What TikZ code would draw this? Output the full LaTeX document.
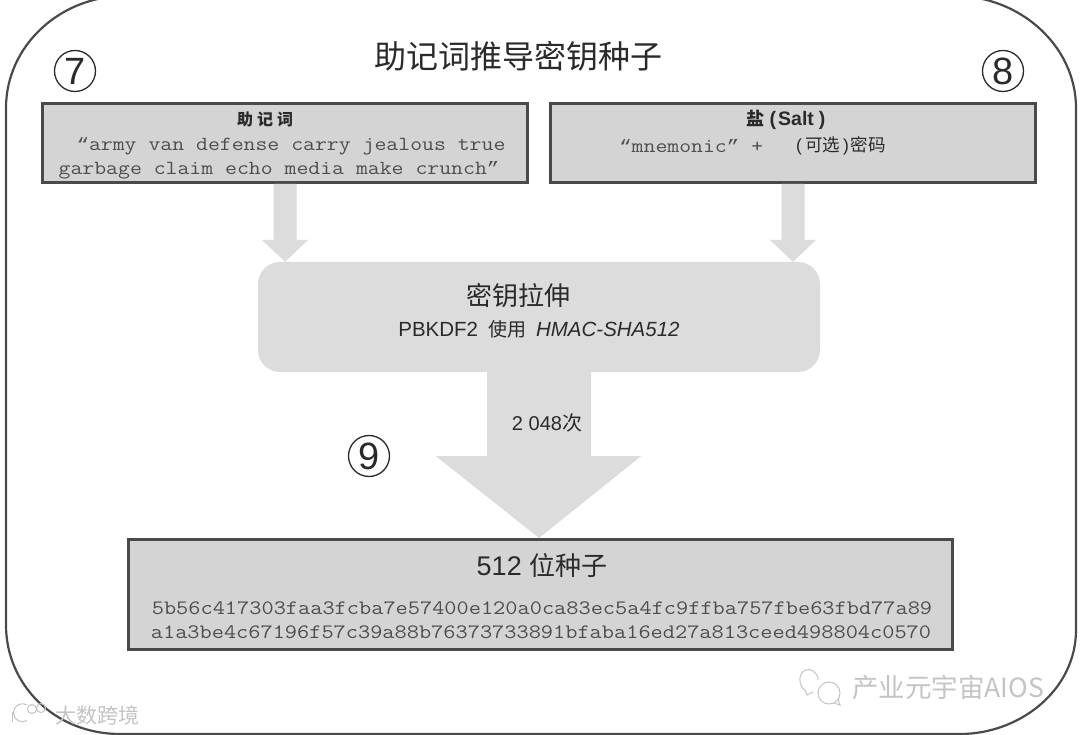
\documentclass[tikz,border=0pt]{standalone}
\usepackage{fontspec}
\setmainfont{Liberation Sans}
\newfontfamily\cjk{Noto Sans CJK SC}
\newfontfamily\quotefont{Liberation Mono}
\usetikzlibrary{calc}
\definecolor{boxgray}{HTML}{D4D4D4}
\definecolor{lightgray2}{HTML}{DCDCDC}
\definecolor{edgegray}{HTML}{4A4A4A}
\definecolor{monogray}{HTML}{4E4E4E}
\definecolor{inkdark}{HTML}{2A2A2A}
\definecolor{markgray}{HTML}{C4C4C4}
\newcommand{\fs}[1]{\fontsize{#1}{#1}\selectfont}
\tikzset{
  x=1pt,y=-1pt,
  box/.style={draw=edgegray,line width=3pt,fill=boxgray,inner sep=0pt},
  blockarrow/.style={fill=lightgray2,draw=none},
  txt/.style={inner sep=0pt,text=inkdark},
  monotxt/.style={inner sep=0pt,text=monogray,font=\ttfamily,xscale=1.155,transform shape},
  num/.style={circle,draw=inkdark,line width=1.3pt,minimum size=41pt,inner sep=0pt,text=inkdark,font=\fs{38}},
  wmark/.style={inner sep=0pt,text=markgray},
  markline/.style={draw=markgray,line width=1pt}
}
\begin{document}
\begin{tikzpicture}
\useasboundingbox (0,0) rectangle (1080,735);
\fill[white] (0,0) rectangle (1080,735);
% outer frame
\draw[edgegray,line width=2.2pt]
  (6,108) .. controls (6,46) and (60,-4) .. (125,-4) -- (955,-4)
  .. controls (1020,-4) and (1076,46) .. (1076,108) -- (1076,630)
  .. controls (1076,690) and (1020,734) .. (960,734) -- (120,734)
  .. controls (55,734) and (6,685) .. (6,625) -- cycle;
% boxes
\node[box,minimum width=485pt,minimum height=79pt] (mn) at (285,143) {};
\node[box,minimum width=485pt,minimum height=79pt] (salt) at (793,143) {};
\node[fill=lightgray2,rounded corners=22pt,minimum width=562pt,minimum height=110pt,inner sep=0pt] (kdf) at (539,317) {};
\node[box,minimum width=824pt,minimum height=110pt] (seed) at (540.5,594.5) {};
% block arrows
\fill[blockarrow] ($(mn.south)+(-11.5,0)$) -- ($(mn.south)+(-11.5,56)$) -- ($(mn.south)+(-23,56)$)
  -- (mn.south |- kdf.north) -- ($(mn.south)+(23,56)$) -- ($(mn.south)+(11.5,56)$) -- ($(mn.south)+(11.5,0)$) -- cycle;
\fill[blockarrow] ($(salt.south)+(-11.5,0)$) -- ($(salt.south)+(-11.5,56)$) -- ($(salt.south)+(-23,56)$)
  -- (salt.south |- kdf.north) -- ($(salt.south)+(23,56)$) -- ($(salt.south)+(11.5,56)$) -- ($(salt.south)+(11.5,0)$) -- cycle;
\fill[blockarrow] ($(kdf.south)+(-52,0)$) -- ($(kdf.south)+(-52,84)$) -- ($(kdf.south)+(-103,84)$)
  -- (kdf.south |- seed.north) -- ($(kdf.south)+(102,84)$) -- ($(kdf.south)+(52,84)$) -- ($(kdf.south)+(52,0)$) -- cycle;
% title
\node[txt] (title) at (518,56) {\cjk\fs{32}助记词推导密钥种子};
% numbers
\node[num] (n7) at (75,71) {7};
\node[num] (n8) at (1003,71) {8};
\node[num] (n9) at (369,456) {9};
% mnemonic box
\node[txt] (mnh) at (265,119) {\cjk\bfseries\fs{16}助\hspace{4pt}记\hspace{4pt}词};
\node[monotxt] (mn1) at (291,146) {\fs{20}{\quotefont\fs{18}“}army van defense carry jealous true};
\node[monotxt] (mn2) at (279,170) {\fs{20}garbage claim echo media make crunch{\quotefont\fs{18}”}};
% salt box
\node[txt] (salth) at (784,120) {\bfseries\fs{19.5}{\cjk\fs{18} 盐}\hspace{5pt}(\hspace{2pt}Salt\hspace{5pt})};
\node[monotxt,anchor=west] (salt1) at (619,146) {\fs{20}{\quotefont\fs{18}“}mnemonic{\quotefont\fs{18}”} +};
\node[txt,anchor=west] (salt2) at (796,146) {\fs{17.5}(\hspace{3pt}{\cjk 可选}\hspace{3pt})\hspace{2pt}{\cjk 密码}};
% kdf
\node[txt] (kdf1) at (518,296) {\cjk\fs{26}密钥拉伸};
\node[txt] (kdf2) at (539,329) {\fs{20.5}PBKDF2 {\cjk\fs{19} 使用}\hspace{10pt}\textit{HMAC-SHA512}};
\node[txt] (iter) at (547,423) {\fs{20}2 048{\cjk 次}};
% seed
\node[txt] (seedh) at (542,566) {\fs{27}512 {\cjk\fs{26}位种子}};
\node[monotxt] (h1) at (542,608) {\fs{20.5}5b56c417303faa3fcba7e57400e120a0ca83ec5a4fc9ffba757fbe63fbd77a89};
\node[monotxt] (h2) at (541,632) {\fs{20.5}a1a3be4c67196f57c39a88b76373733891bfaba16ed27a813ceed498804c0570};
% watermarks
\node[wmark,anchor=west] (wm1) at (55,715) {\cjk\fs{21}大数跨境};
\node[wmark,anchor=west] (wm2) at (852,687) {\cjk\fs{26.5}产业元宇宙AIOS};
\draw[markline] (12,712) -- (12,722);
\draw[markline] (27,705) arc[start angle=-60,end angle=-300,radius=9];
\draw[markline] (32,709) circle[radius=4.5] (41,708) circle[radius=4.5];
\draw[markline] (818,680) .. controls (818,672) and (810,668) .. (806,670)
  .. controls (798,672) and (798,686) .. (805,690) -- (807,695) -- (813,692);
\draw[markline] (829,693) circle[radius=11];
\draw[markline] (834,703) -- (840,705) -- (838,699);
\end{tikzpicture}
\end{document}
